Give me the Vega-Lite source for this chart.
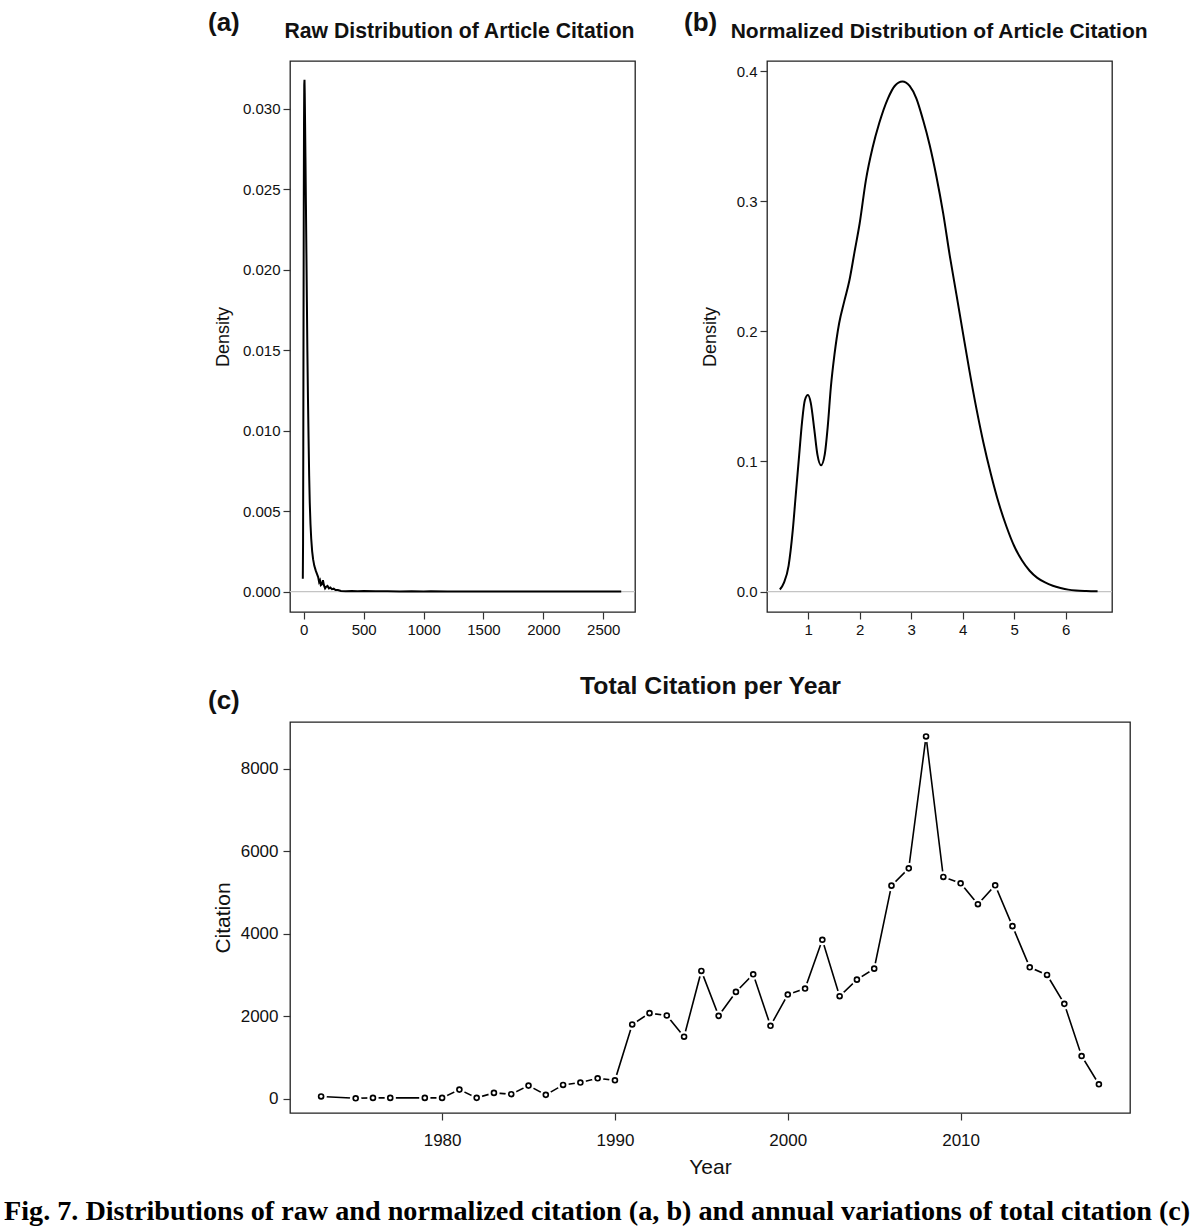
{
  "$schema": "https://vega.github.io/schema/vega-lite/v6.json",
  "background": "white",
  "padding": {"left": 4, "top": 9, "right": 2, "bottom": 4},
  "autosize": {"type": "pad"},
  "datasets": {
    "raw": [
      {"citation": -8, "density": 0.0008}, {"citation": -6, "density": 0.003}, {"citation": -4, "density": 0.009},
      {"citation": -2, "density": 0.017}, {"citation": 0, "density": 0.024}, {"citation": 2, "density": 0.029},
      {"citation": 4, "density": 0.0315}, {"citation": 6, "density": 0.0318}, {"citation": 8, "density": 0.031},
      {"citation": 11, "density": 0.029}, {"citation": 14, "density": 0.027}, {"citation": 18, "density": 0.024},
      {"citation": 22, "density": 0.021}, {"citation": 26, "density": 0.018}, {"citation": 30, "density": 0.015},
      {"citation": 35, "density": 0.012}, {"citation": 40, "density": 0.0095}, {"citation": 45, "density": 0.0072},
      {"citation": 50, "density": 0.0055}, {"citation": 56, "density": 0.0042}, {"citation": 62, "density": 0.0033},
      {"citation": 70, "density": 0.0025}, {"citation": 78, "density": 0.002}, {"citation": 88, "density": 0.0016},
      {"citation": 100, "density": 0.0013}, {"citation": 110, "density": 0.0011}, {"citation": 120, "density": 0.0009},
      {"citation": 128, "density": 0.0006}, {"citation": 135, "density": 0.0007}, {"citation": 142, "density": 0.0004},
      {"citation": 150, "density": 0.00045}, {"citation": 160, "density": 0.0007}, {"citation": 168, "density": 0.0004},
      {"citation": 178, "density": 0.0002}, {"citation": 188, "density": 0.0003}, {"citation": 198, "density": 0.00035},
      {"citation": 210, "density": 0.0002}, {"citation": 222, "density": 0.00025}, {"citation": 235, "density": 0.00015},
      {"citation": 250, "density": 0.00018}, {"citation": 265, "density": 0.0001}, {"citation": 285, "density": 0.0001},
      {"citation": 310, "density": 0.00004}, {"citation": 350, "density": 0.00002}, {"citation": 400, "density": 0.00003},
      {"citation": 450, "density": 0.00002}, {"citation": 500, "density": 0.00003}, {"citation": 600, "density": 0.00002},
      {"citation": 700, "density": 0.00002}, {"citation": 800, "density": 0.00001}, {"citation": 900, "density": 0.00002},
      {"citation": 1000, "density": 0.00001}, {"citation": 1060, "density": 0.00002}, {"citation": 1200, "density": 0.00001},
      {"citation": 1500, "density": 0.00001}, {"citation": 2000, "density": 0.00001}, {"citation": 2650, "density": 0.00001}
    ],
    "norm": [
      {"value": 0.45, "density": 0.0016}, {"value": 0.53, "density": 0.0068}, {"value": 0.62, "density": 0.02},
      {"value": 0.70, "density": 0.047}, {"value": 0.76, "density": 0.075}, {"value": 0.825, "density": 0.105},
      {"value": 0.88, "density": 0.13}, {"value": 0.935, "density": 0.147}, {"value": 0.995, "density": 0.151},
      {"value": 1.05, "density": 0.145}, {"value": 1.12, "density": 0.124}, {"value": 1.18, "density": 0.105},
      {"value": 1.25, "density": 0.097}, {"value": 1.32, "density": 0.105}, {"value": 1.38, "density": 0.127},
      {"value": 1.44, "density": 0.157}, {"value": 1.51, "density": 0.182}, {"value": 1.60, "density": 0.206},
      {"value": 1.70, "density": 0.223}, {"value": 1.80, "density": 0.239}, {"value": 1.90, "density": 0.261},
      {"value": 2.0, "density": 0.283}, {"value": 2.12, "density": 0.316}, {"value": 2.25, "density": 0.341},
      {"value": 2.38, "density": 0.36}, {"value": 2.55, "density": 0.379}, {"value": 2.68, "density": 0.3885},
      {"value": 2.83, "density": 0.392}, {"value": 2.97, "density": 0.3885}, {"value": 3.10, "density": 0.379},
      {"value": 3.23, "density": 0.3625}, {"value": 3.36, "density": 0.343}, {"value": 3.49, "density": 0.319},
      {"value": 3.62, "density": 0.291}, {"value": 3.75, "density": 0.258}, {"value": 3.88, "density": 0.228},
      {"value": 4.0, "density": 0.2}, {"value": 4.13, "density": 0.17}, {"value": 4.27, "density": 0.14},
      {"value": 4.4, "density": 0.115}, {"value": 4.55, "density": 0.09}, {"value": 4.7, "density": 0.068},
      {"value": 4.85, "density": 0.05}, {"value": 5.0, "density": 0.035}, {"value": 5.15, "density": 0.024},
      {"value": 5.3, "density": 0.016}, {"value": 5.45, "density": 0.0105}, {"value": 5.6, "density": 0.007},
      {"value": 5.75, "density": 0.0045}, {"value": 5.9, "density": 0.0028}, {"value": 6.05, "density": 0.0015},
      {"value": 6.2, "density": 0.0008}, {"value": 6.4, "density": 0.0004}, {"value": 6.62, "density": 0.0002}
    ],
    "annual": [
      {"year": 1973, "citation": 50}, {"year": 1975, "citation": 5}, {"year": 1976, "citation": 15},
      {"year": 1977, "citation": 15}, {"year": 1979, "citation": 15}, {"year": 1980, "citation": 15},
      {"year": 1981, "citation": 217}, {"year": 1982, "citation": 16}, {"year": 1983, "citation": 137},
      {"year": 1984, "citation": 105}, {"year": 1985, "citation": 314}, {"year": 1986, "citation": 89},
      {"year": 1987, "citation": 330}, {"year": 1988, "citation": 387}, {"year": 1989, "citation": 491},
      {"year": 1990, "citation": 443}, {"year": 1991, "citation": 1796}, {"year": 1992, "citation": 2071},
      {"year": 1993, "citation": 2014}, {"year": 1994, "citation": 1499}, {"year": 1995, "citation": 3094},
      {"year": 1996, "citation": 2006}, {"year": 1997, "citation": 2586}, {"year": 1998, "citation": 3013},
      {"year": 1999, "citation": 1764}, {"year": 2000, "citation": 2522}, {"year": 2001, "citation": 2667},
      {"year": 2002, "citation": 3851}, {"year": 2003, "citation": 2481}, {"year": 2004, "citation": 2884},
      {"year": 2005, "citation": 3150}, {"year": 2006, "citation": 5164}, {"year": 2007, "citation": 5583},
      {"year": 2008, "citation": 8782}, {"year": 2009, "citation": 5374}, {"year": 2010, "citation": 5221},
      {"year": 2011, "citation": 4713}, {"year": 2012, "citation": 5172}, {"year": 2013, "citation": 4181},
      {"year": 2014, "citation": 3183}, {"year": 2015, "citation": 2997}, {"year": 2016, "citation": 2296},
      {"year": 2017, "citation": 1031}, {"year": 2018, "citation": 346}
    ]
  },
  "title": {
    "text": "Fig. 7. Distributions of raw and normalized citation (a, b) and annual variations of total citation (c)",
    "orient": "bottom", "anchor": "start", "frame": "group", "dx": -286,
    "font": "Liberation Serif", "fontSize": 28.2, "fontWeight": "bold", "color": "#000", "offset": 20
  },
  "config": {
    "font": "Liberation Sans",
    "view": {"stroke": "#222", "strokeWidth": 1.3},
    "axis": {
      "domain": false, "grid": false, "ticks": true, "tickSize": 7, "tickColor": "#333", "tickWidth": 1.2,
      "labelFont": "Liberation Sans", "labelColor": "#111", "labelFontSize": 15,
      "titleFont": "Liberation Sans", "titleFontWeight": "normal", "titleColor": "#111"
    },
    "title": {"font": "Liberation Sans", "fontWeight": "bold", "color": "#111", "subtitleFont": "Liberation Sans", "subtitleFontWeight": "bold", "subtitleColor": "#111"}
  },
  "spacing": 35,
  "vconcat": [
    {
      "spacing": 132,
      "bounds": "flush",
      "hconcat": [
        {
          "width": 345, "height": 551,
          "title": {
            "text": "(a)",
            "subtitle": "\u200b\u00a0\u00a0\u00a0\u00a0\u00a0\u00a0\u00a0\u00a0\u00a0\u00a0\u00a0\u00a0\u00a0Raw Distribution of Article Citation",
            "anchor": "start", "frame": "group", "dx": -82, "fontSize": 26, "subtitleFontSize": 21.2,
            "subtitlePadding": -15, "offset": 19
          },
          "layer": [
            {
              "data": {"values": [{"zero": 0}]},
              "mark": {"type": "rule", "color": "#c4c4c4", "strokeWidth": 1.2},
              "encoding": {"y": {"field": "zero", "type": "quantitative", "scale": {"domain": [-0.00127, 0.03297], "nice": false, "zero": false}}}
            },
            {
              "data": {"name": "raw"},
              "mark": {"type": "line", "color": "#000", "strokeWidth": 2},
              "encoding": {
                "x": {"field": "citation", "type": "quantitative", "scale": {"domain": [-115, 2765], "nice": false, "zero": false},
                      "axis": {"values": [0, 500, 1000, 1500, 2000, 2500], "format": "d", "title": null, "labelPadding": 3}},
                "y": {"field": "density", "type": "quantitative", "scale": {"domain": [-0.00127, 0.03297], "nice": false, "zero": false},
                      "axis": {"values": [0, 0.005, 0.01, 0.015, 0.02, 0.025, 0.03], "format": ".3f", "title": "Density", "titleFontSize": 18, "titlePadding": 10, "labelPadding": 3}}
              }
            }
          ]
        },
        {
          "width": 345, "height": 551,
          "title": {
            "text": "(b)",
            "subtitle": "\u200b\u00a0\u00a0\u00a0\u00a0\u00a0\u00a0\u00a0\u00a0Normalized Distribution of Article Citation",
            "anchor": "start", "frame": "group", "dx": -83, "fontSize": 26, "subtitleFontSize": 21,
            "subtitlePadding": -15, "offset": 19
          },
          "layer": [
            {
              "data": {"values": [{"zero": 0}]},
              "mark": {"type": "rule", "color": "#c4c4c4", "strokeWidth": 1.2},
              "encoding": {"y": {"field": "zero", "type": "quantitative", "scale": {"domain": [-0.0157, 0.4077], "nice": false, "zero": false}}}
            },
            {
              "data": {"name": "norm"},
              "mark": {"type": "line", "color": "#000", "strokeWidth": 2, "interpolate": "monotone"},
              "encoding": {
                "x": {"field": "value", "type": "quantitative", "scale": {"domain": [0.2, 6.9], "nice": false, "zero": false},
                      "axis": {"values": [1, 2, 3, 4, 5, 6], "title": null, "labelPadding": 3}},
                "y": {"field": "density", "type": "quantitative", "scale": {"domain": [-0.0157, 0.4077], "nice": false, "zero": false},
                      "axis": {"values": [0, 0.1, 0.2, 0.3, 0.4], "format": ".1f", "title": "Density", "titleFontSize": 18, "titlePadding": 17, "labelPadding": 3}}
              }
            }
          ]
        }
      ]
    },
    {
      "width": 840, "height": 391,
      "data": {"name": "annual"},
      "title": {
        "text": "\u200b\u00a0\u00a0\u00a0\u00a0\u00a0\u00a0\u00a0\u00a0\u00a0\u00a0\u00a0\u00a0\u00a0\u00a0\u00a0\u00a0\u00a0\u00a0\u00a0\u00a0\u00a0\u00a0\u00a0\u00a0\u00a0\u00a0\u00a0\u00a0\u00a0\u00a0\u00a0\u00a0\u00a0\u00a0\u00a0\u00a0\u00a0\u00a0\u00a0\u00a0\u00a0\u00a0\u00a0\u00a0\u00a0\u00a0\u00a0\u00a0\u00a0\u00a0\u00a0\u00a0\u00a0\u00a0Total Citation per Year",
        "subtitle": "(c)",
        "anchor": "start", "frame": "group", "dx": -82, "fontSize": 24.8, "subtitleFontSize": 26,
        "subtitlePadding": -11, "offset": 8
      },
      "encoding": {
        "x": {"field": "year", "type": "quantitative", "scale": {"domain": [1971.2, 2019.8], "nice": false, "zero": false},
              "axis": {"values": [1980, 1990, 2000, 2010], "format": "d", "title": "Year", "titleFontSize": 21, "titlePadding": 8, "labelFontSize": 17, "labelPadding": 12}},
        "y": {"field": "citation", "type": "quantitative", "scale": {"domain": [-351, 9133], "nice": false, "zero": false},
              "axis": {"values": [0, 2000, 4000, 6000, 8000], "format": "d", "title": "Citation", "titleFontSize": 21, "titlePadding": 7, "labelFontSize": 17, "labelPadding": 5}}
      },
      "layer": [
        {"mark": {"type": "line", "color": "#000", "strokeWidth": 1.6}},
        {"mark": {"type": "point", "shape": "circle", "filled": true, "color": "#fff", "opacity": 1, "size": 130}},
        {"mark": {"type": "point", "shape": "circle", "filled": false, "color": "#000", "opacity": 1, "size": 24, "strokeWidth": 1.7}}
      ]
    }
  ]
}
